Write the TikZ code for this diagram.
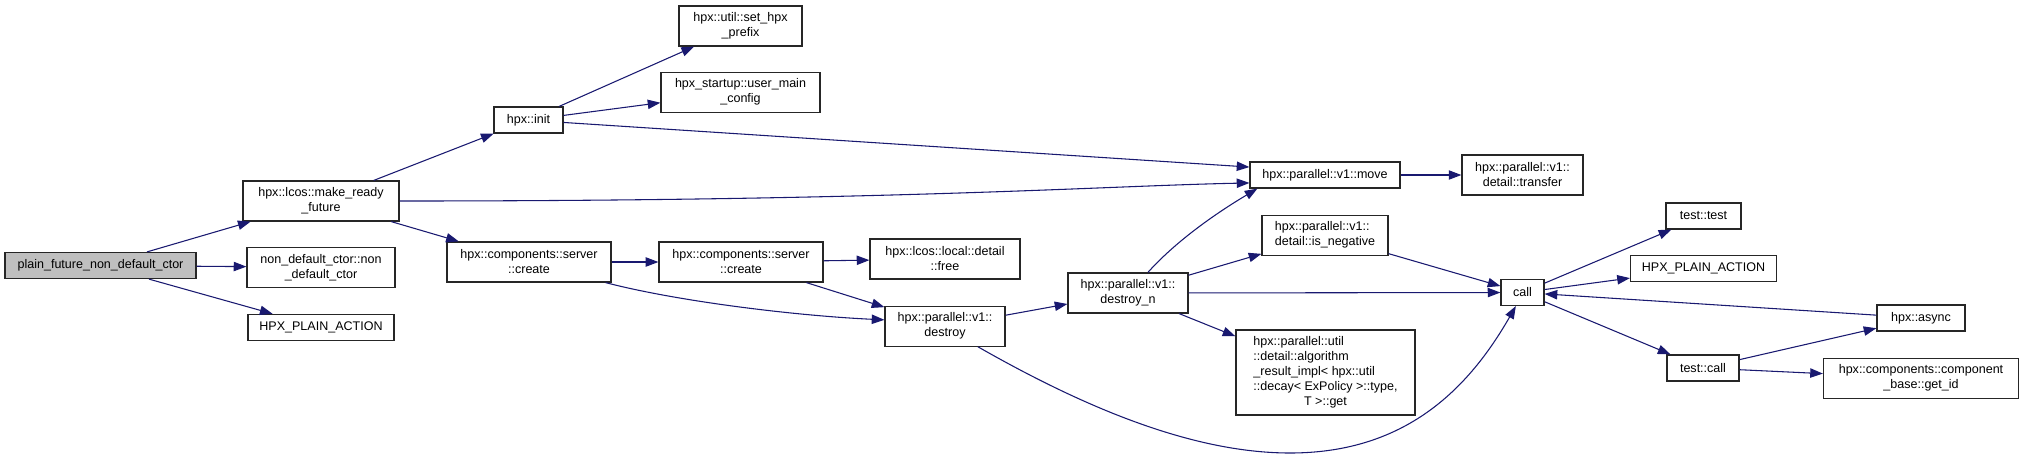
\documentclass[tikz,border=0pt]{standalone}
\usepackage{fontspec}
\setmainfont{Liberation Sans}
\usepackage{tikz}
\usetikzlibrary{arrows.meta, positioning}
\definecolor{edgeblue}{HTML}{191970}
\definecolor{rootgray}{HTML}{BFBFBF}

\begin{document}
\begin{tikzpicture}[
    x=0.75pt, y=-0.75pt,
    func/.style={
        rectangle,
        minimum height=19.5pt,
        inner sep=0pt,
        text centered,
        align=center,
        draw=black!85,
        line width=0.9pt,
        fill=white,
        font=\fontsize{9.4}{11.25}\selectfont
    },
    tall/.style={minimum height=30pt},
    root/.style={fill=rootgray},
    arrow/.style={
        ->,
        >={Triangle[length=9.5pt,width=7pt]},
        draw=edgeblue,
        line width=0.8pt
    }
]
\useasboundingbox (0,0) rectangle (2024,458);
% CALLER AND FIRST CALLS
\node (plain) [func, root, minimum width=143.25pt] at (100.5,265.5) {plain\_future\_non\_default\_ctor};
\node (mrf) [func, tall, minimum width=117pt] at (321,201) {hpx::lcos::make\_ready\\\_future};
\node (ndc) [func, tall, minimum width=111pt, below=18.75pt of mrf] {non\_default\_ctor::non\\\_default\_ctor};
\node (hpa1) [func, minimum width=109.5pt, below=19.5pt of ndc] {HPX\_PLAIN\_ACTION};
% INIT AND CREATE
\node (init) [func, minimum width=51.75pt] at (528.5,120) {hpx::init};
\node (prefix) [func, tall, minimum width=92.25pt] at (740.5,26) {hpx::util::set\_hpx\\\_prefix};
\node (umc) [func, tall, minimum width=119.25pt, below=18.75pt of prefix] {hpx\_startup::user\_main\\\_config};
\node (create1) [func, tall, minimum width=123pt] at (529,262) {hpx::components::server\\::create};
\node (create2) [func, tall, minimum width=123pt] at (741,262) {hpx::components::server\\::create};
% DESTROY
\node (free) [func, tall, minimum width=112.5pt] at (945,259) {hpx::lcos::local::detail\\::free};
\node (destroy) [func, tall, minimum width=90pt, below=19.5pt of free] {hpx::parallel::v1::\\destroy};
\node (destroyn) [func, tall, minimum width=90pt] at (1128,293) {hpx::parallel::v1::\\destroy\_n};
% PARALLEL HELPERS
\node (move) [func, minimum width=112.5pt] at (1325,175) {hpx::parallel::v1::move};
\node (isneg) [func, tall, minimum width=94.5pt, align=left, below=19.5pt of move] {hpx::parallel::v1::\\detail::is\_negative};
\node (algo) [func, minimum width=134.25pt, minimum height=63.75pt] at (1325.5,372.5) {\begin{tabular}{@{}l@{}}hpx::parallel::util\\::detail::algorithm\\\_result\_impl< hpx::util\\::decay< ExPolicy >::type,\\\multicolumn{1}{@{}c@{}}{T >::get}\end{tabular}};
\node (transfer) [func, tall, minimum width=90.75pt] at (1522.5,175) {hpx::parallel::v1::\\detail::transfer};
\node (call) [func, minimum width=32.25pt] at (1522.5,292.5) {call};
% TEST SIDE
\node (ttest) [func, minimum width=56.25pt] at (1703.5,216) {test::test};
\node (hpa2) [func, minimum width=109.5pt, below=18.75pt of ttest] {HPX\_PLAIN\_ACTION};
\node (tcall) [func, minimum width=54pt] at (1703,368) {test::call};
\node (async) [func, minimum width=66pt] at (1921,318) {hpx::async};
\node (getid) [func, tall, minimum width=146.25pt, below=19.5pt of async] {hpx::components::component\\\_base::get\_id};
% ARROWS FROM THE CALLER
\draw [arrow] (plain) -- (mrf);
\draw [arrow] (plain) -- (ndc);
\draw [arrow] (plain) -- (hpa1);
\draw [arrow] (mrf) -- (init);
\draw [arrow] (mrf.east) .. controls (900,201) and (1100,186) .. (move.186);
\draw [arrow] (mrf) -- (create1);
\draw [arrow] (init) -- (prefix);
\draw [arrow] (init) -- (umc);
\draw [arrow] (init.-4) -- (move.174);
% CREATE AND DESTROY
\draw [arrow] (create1) -- (create2);
\draw [arrow] ([xshift=-4.5pt]create1.south east) .. controls (680,302) and (800,316) .. (destroy.174);
\draw [arrow] (create2) -- (free);
\draw [arrow] (create2) -- (destroy);
\draw [arrow] (destroy) -- (destroyn);
\draw [arrow] (destroy.-32) .. controls (1080,405) and (1190,453) .. (1290,453) .. controls (1400,453) and (1465,395) .. ([xshift=-5pt]call.south);
\draw [arrow] (destroyn.46) .. controls (1177,240) and (1218,212) .. ([xshift=6pt]move.south west);
\draw [arrow] (destroyn) -- (isneg);
\draw [arrow] (destroyn) -- (call);
\draw [arrow] (destroyn) -- (algo);
\draw [arrow] (move) -- (transfer);
\draw [arrow] (isneg) -- (call);
% CALL AND TEST
\draw [arrow] (call) -- (ttest);
\draw [arrow] (call) -- (hpa2);
\draw [arrow] (call) -- (tcall);
\draw [arrow] (async) -- (call);
\draw [arrow] (tcall) -- (async);
\draw [arrow] (tcall) -- (getid);
\end{tikzpicture}
\end{document}
